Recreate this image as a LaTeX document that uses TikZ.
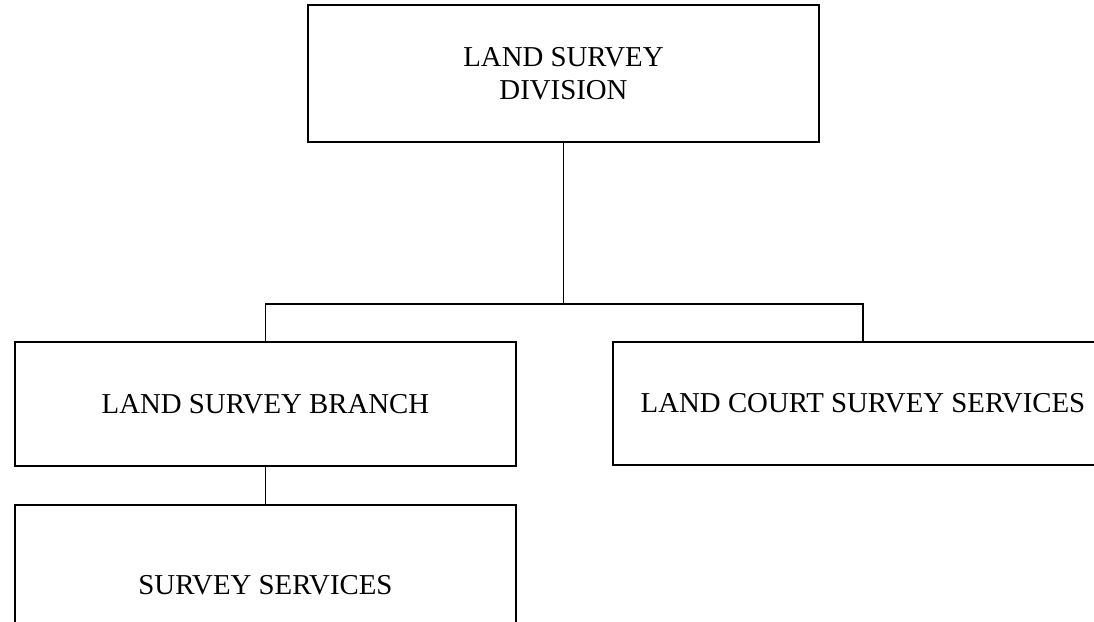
\documentclass[tikz,border=0pt]{standalone}
\usepackage{fontspec}
\setmainfont{Liberation Serif}
\usetikzlibrary{positioning}

\begin{document}
\begin{tikzpicture}[
  x=0.025cm, y=-0.025cm,
  unit/.style={draw=black, line width=1.2pt, fill=white, align=center,
    font=\fontsize{20.5}{23.5}\selectfont, inner sep=0pt},
  link/.style={black, line width=1.2pt}]
  \clip (0,0) rectangle (1094,621);
  \fill[white] (0,0) rectangle (1094,621);
  \node[unit, minimum width=12.775cm, minimum height=3.425cm] (DIV) at (563.5,73.5)
    {LAND SURVEY\\DIVISION};
  \node[unit, minimum width=12.525cm, minimum height=3.1cm] (LSB) at (265.5,404)
    {LAND SURVEY BRANCH};
  \node[unit, minimum width=12.5cm, minimum height=3.075cm] (LCS) at (863,403.5)
    {LAND COURT SURVEY SERVICES};
  \node[unit, minimum width=12.525cm, minimum height=4cm] (SRV) at (265.5,585)
    {SURVEY SERVICES};
  \coordinate (hub) at (DIV.south |- 0,304);
  % Connectors
  \draw[link] (DIV.south) -- (hub);
  \draw[link] (LSB.north) -- (LSB.north |- hub) -- (LCS.north |- hub) -- (LCS.north);
  \draw[link] (LSB.south) -- (SRV.north);
\end{tikzpicture}
\end{document}
